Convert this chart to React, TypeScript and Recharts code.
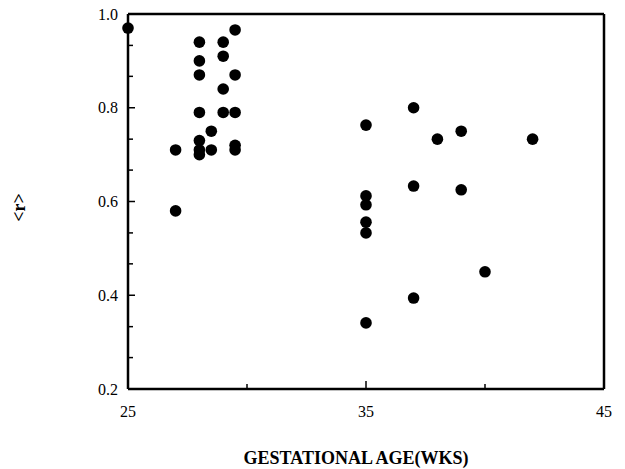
import { Scatter, ScatterChart, XAxis, YAxis } from "recharts";

// gestational age (weeks) and mean <r>
const ageWks = [
  25, 27, 27,
  28, 28, 28, 28, 28, 28, 28,
  28.5, 28.5,
  29, 29, 29, 29,
  29.5, 29.5, 29.5, 29.5, 29.5,
  35, 35, 35, 35, 35, 35,
  37, 37, 37,
  38, 39, 39, 40, 42,
];
const meanR = [
  0.97, 0.71, 0.58,
  0.94, 0.9, 0.87, 0.79, 0.73, 0.71, 0.7,
  0.75, 0.71,
  0.94, 0.91, 0.84, 0.79,
  0.966, 0.87, 0.79, 0.72, 0.71,
  0.763, 0.612, 0.593, 0.556, 0.533, 0.341,
  0.8, 0.633, 0.394,
  0.733, 0.75, 0.625, 0.45, 0.733,
];

const xTicks = [25, 30, 35, 40, 45];
const xTickLabels = ["25", "", "35", "", "45"];
const yTicks = [0.2, 0.267, 0.333, 0.4, 0.467, 0.533, 0.6, 0.667, 0.733, 0.8, 0.867, 0.933, 1.0];
const yTickLabels = ["0.2", "", "", "0.4", "", "", "0.6", "", "", "0.8", "", "", "1.0"];

const points = ageWks.map((age, i) => ({ age, r: meanR[i] }));

const INK = "#000";
const SERIF = "'Liberation Serif', 'Times New Roman', 'DejaVu Serif', serif";
const labelStyle = { fontFamily: SERIF, fontSize: 16, fill: INK };
const titleStyle = { fontFamily: SERIF, fontSize: 18, fontWeight: 700, fill: INK };

type TickProps = { x: number; y: number; payload: { value: number }; index: number };

function LeftTick({ x, y, index }: TickProps) {
  const label = yTickLabels[index];
  return (
    <g>
      <line x1={x} x2={x + (label ? 7 : 5)} y1={y} y2={y} stroke={INK} strokeWidth={1.5} />
      {label && (
        <text x={x - 10} y={y} dy="0.35em" textAnchor="end" style={labelStyle}>
          {label}
        </text>
      )}
    </g>
  );
}

function RightTick({ x, y }: TickProps) {
  return <line x1={x} x2={x - 5} y1={y} y2={y} stroke={INK} strokeWidth={1.5} />;
}

function BottomTick({ x, y, index }: TickProps) {
  const label = xTickLabels[index];
  return (
    <g>
      <line x1={x} x2={x} y1={y} y2={y - (label ? 8 : 5)} stroke={INK} strokeWidth={1.5} />
      {label && (
        <text x={x} y={y + 22} dy="0.35em" textAnchor="middle" style={labelStyle}>
          {label}
        </text>
      )}
    </g>
  );
}

function TopTick({ x, y }: TickProps) {
  return <line x1={x} x2={x} y1={y} y2={y + 5} stroke={INK} strokeWidth={1.5} />;
}

function Dot({ cx, cy }: { cx?: number; cy?: number }) {
  return <circle cx={cx} cy={cy} r={5.8} fill={INK} />;
}

export default function App() {
  const axisLine = { stroke: INK, strokeWidth: 2.5 };
  return (
    <div style={{ width: 625, height: 469, background: "#fff" }}>
      <style>{"body{margin:0}"}</style>
      <ScatterChart width={625} height={469} margin={{ top: 13, right: 20, bottom: 0, left: 8 }}>
        <XAxis
          xAxisId="b"
          dataKey="age"
          type="number"
          domain={[25, 45]}
          ticks={xTicks}
          height={80}
          tickSize={0}
          tickMargin={0}
          axisLine={axisLine}
          tick={BottomTick}
          label={{
            position: "insideBottom",
            content: ({ viewBox }: any) => (
              <text
                x={viewBox.x + viewBox.width / 2 - 10}
                y={viewBox.y + viewBox.height - 11}
                dy="0.35em"
                textAnchor="middle"
                style={titleStyle}
              >
                GESTATIONAL AGE(WKS)
              </text>
            ),
          }}
        />
        <XAxis
          xAxisId="t"
          orientation="top"
          type="number"
          domain={[25, 45]}
          ticks={xTicks}
          height={1}
          tickSize={0}
          tickMargin={0}
          axisLine={axisLine}
          tick={TopTick}
        />
        <YAxis
          yAxisId="l"
          dataKey="r"
          type="number"
          domain={[0.2, 1.0]}
          ticks={yTicks}
          width={120}
          tickSize={0}
          tickMargin={0}
          axisLine={axisLine}
          tick={LeftTick}
          label={{
            position: "insideLeft",
            content: ({ viewBox }: any) => (
              <text
                x={19}
                y={viewBox.y + viewBox.height / 2 + 6}
                transform={`rotate(-90 19 ${viewBox.y + viewBox.height / 2 + 6})`}
                textAnchor="middle"
                dy="0.35em"
                style={titleStyle}
              >
                {"<r>"}
              </text>
            ),
          }}
        />
        <YAxis
          yAxisId="rt"
          orientation="right"
          type="number"
          domain={[0.2, 1.0]}
          ticks={yTicks}
          width={1}
          tickSize={0}
          tickMargin={0}
          axisLine={axisLine}
          tick={RightTick}
        />
        <Scatter
          data={points}
          xAxisId="b"
          yAxisId="l"
          shape={Dot}
          isAnimationActive={false}
        />
      </ScatterChart>
    </div>
  );
}
